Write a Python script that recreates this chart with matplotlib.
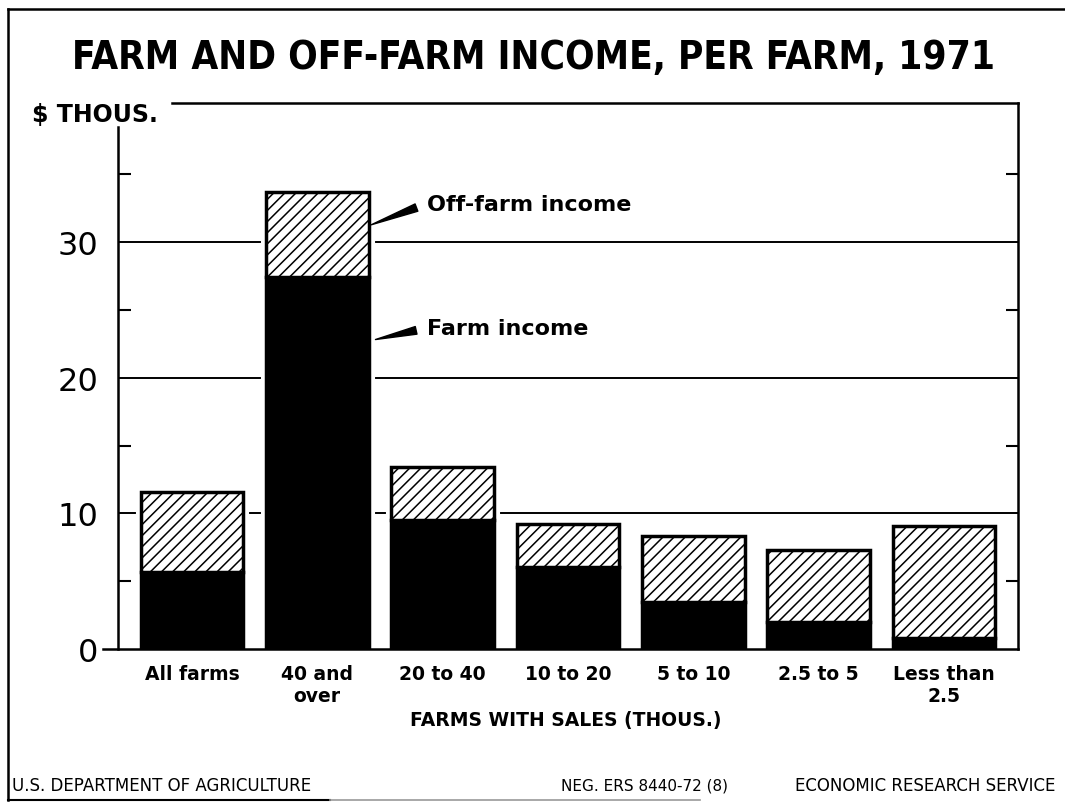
import matplotlib
matplotlib.use("Agg")
import matplotlib.pyplot as plt
from matplotlib.lines import Line2D
from matplotlib import font_manager
import numpy as np

# ---------------- data ----------------
categories = ["All farms", "40 and\nover", "20 to 40", "10 to 20", "5 to 10", "2.5 to 5", "Less than\n2.5"]
farm_income = [5.7, 27.4, 9.5, 6.05, 3.5, 2.0, 0.8]
total_income = [11.6, 33.7, 13.4, 9.2, 8.3, 7.3, 9.1]
off_farm_income = [t - f for t, f in zip(total_income, farm_income)]
y_ticks = [0, 10, 20, 30]
y_minor = [5, 15, 25, 35]

title = "FARM AND OFF-FARM INCOME, PER FARM, 1971"

W, H = 1065, 803
plt.rcParams["hatch.linewidth"] = 1.1
fig = plt.figure(figsize=(W / 100, H / 100), dpi=100)

def fx(px):
    return px / W

def fy(py):
    return 1 - py / H

main_font = "DejaVu Sans"
has_cond = any(f.name == "DejaVu Sans" and f.stretch in ("condensed", 300, "semi-condensed")
               for f in font_manager.fontManager.ttflist)

ax = fig.add_axes([fx(118), fy(650), fx(1018) - fx(118), fy(104) - fy(650)])
x = np.arange(len(categories))
bw = 0.82
ax.set_xlim(-0.59, len(categories) - 1 + 0.59)
ax.set_ylim(0, 40.25)

# gridlines
for v in y_ticks[1:]:
    ax.axhline(v, color="black", lw=1.4, zorder=1)

# white halo behind bars (gaps in gridlines)
ax.bar(x, total_income, width=bw, color="white", edgecolor="white", lw=8, zorder=2)
ax.bar(x, farm_income, width=bw, color="black", edgecolor="black", lw=2.5, zorder=3)
ax.bar(x, off_farm_income, bottom=farm_income, width=bw, color="white",
       edgecolor="black", hatch="///", lw=2.5, zorder=3)

# spines
for s in ax.spines.values():
    s.set_linewidth(1.8)
ax.spines["left"].set_bounds(0, 38.5)
ax.spines["top"].set_bounds(-0.16, len(categories) - 1 + 0.59)
ax.spines["bottom"].set_bounds(-0.71, len(categories) - 1 + 0.59)

# ticks
ax.set_yticks(y_ticks)
ax.set_yticklabels([str(v) for v in y_ticks], fontsize=23, fontfamily=main_font)
ax.tick_params(axis="y", which="major", length=0, pad=14)
ax.set_yticks(y_minor, minor=True)
ax.tick_params(axis="y", which="minor", direction="in", length=9, width=1.5,
               left=True, right=True)
ax.set_xticks(x)
ax.set_xticklabels(categories, fontsize=13.5, fontweight="bold", fontfamily=main_font,
                   linespacing=1.15)
ax.tick_params(axis="x", length=0, pad=11)

# annotations
ax.annotate("Off-farm income", xy=(x[1] + bw / 2, 31.2), xytext=(42, 16),
            textcoords="offset points", ha="left", va="center", fontsize=16,
            fontweight="bold", fontfamily=main_font,
            arrowprops=dict(arrowstyle="wedge,tail_width=0.35,shrink_factor=0.5",
                            fc="black", ec="black", relpos=(0, 0.5), shrinkA=6, shrinkB=2))
ax.annotate("Farm income", xy=(x[1] + bw / 2, 22.7), xytext=(42, 9.5),
            textcoords="offset points", ha="left", va="center", fontsize=16,
            fontweight="bold", fontfamily=main_font,
            arrowprops=dict(arrowstyle="wedge,tail_width=0.35,shrink_factor=0.5",
                            fc="black", ec="black", relpos=(0, 0.5), shrinkA=6, shrinkB=5))

# labels & titles
fig.text(fx(95), fy(115), "$ THOUS.", ha="center", va="center", fontsize=17,
         fontweight="bold", fontfamily=main_font)
fig.text(fx(566), fy(721), "FARMS WITH SALES (THOUS.)", ha="center", va="center",
         fontsize=13.5, fontweight="bold", fontfamily=main_font)

t = fig.text(fx(534), fy(58), title, ha="center", va="center", fontsize=36,
             fontweight="heavy", fontfamily=main_font,
             fontstretch="condensed" if has_cond else "normal")
fig.canvas.draw()
r = fig.canvas.get_renderer()
wpx = t.get_window_extent(r).width
t.set_fontsize(36 * 925 / wpx)

# footer
fig.text(fx(12), fy(786), "U.S. DEPARTMENT OF AGRICULTURE", ha="left", va="center",
         fontsize=12, fontfamily=main_font)
fig.text(fx(728), fy(786), "NEG. ERS 8440-72 (8)", ha="right", va="center",
         fontsize=11, fontfamily=main_font)
fig.text(fx(1055), fy(786), "ECONOMIC RESEARCH SERVICE", ha="right", va="center",
         fontsize=12, fontfamily=main_font)

# outer frame
fig.add_artist(Line2D([fx(8), fx(1065)], [fy(10), fy(10)], color="black", lw=1.8))
fig.add_artist(Line2D([fx(8), fx(8)], [fy(10), fy(801)], color="black", lw=1.8))
fig.add_artist(Line2D([fx(8), fx(330)], [fy(801), fy(801)], color="black", lw=1.5))
fig.add_artist(Line2D([fx(330), fx(700)], [fy(801), fy(801)], color="#999999", lw=1.2))

fig.savefig("out.png", dpi=100)
